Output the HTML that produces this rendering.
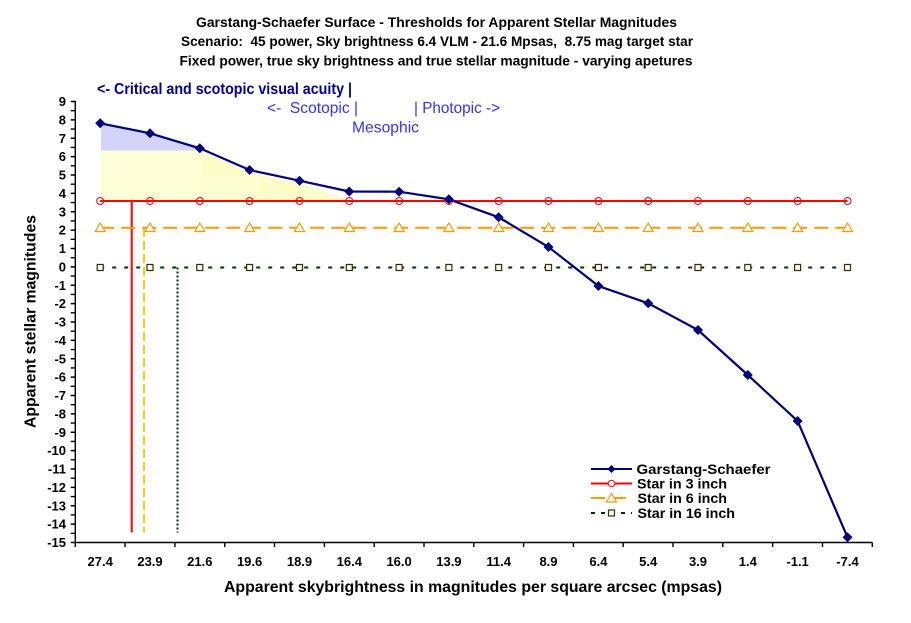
<!DOCTYPE html>
<html><head><meta charset="utf-8"><style>
html,body{margin:0;padding:0;background:#fff;}
svg{display:block;}
text{font-family:"Liberation Sans",Arial,sans-serif;}
</style></head><body>
<svg width="911" height="623" viewBox="0 0 911 623" xmlns="http://www.w3.org/2000/svg">
<rect width="911" height="623" fill="#fff"/>
<!-- Titles -->
<g font-weight="bold" font-size="14" fill="#000" text-anchor="middle">
<text x="436.5" y="27" textLength="481" lengthAdjust="spacingAndGlyphs">Garstang-Schaefer Surface - Thresholds for Apparent Stellar Magnitudes</text>
<text x="437" y="46" textLength="512" lengthAdjust="spacingAndGlyphs">Scenario:&#160; 45 power, Sky brightness 6.4 VLM - 21.6 Mpsas,&#160; 8.75 mag target star</text>
<text x="436" y="65.5" textLength="513" lengthAdjust="spacingAndGlyphs">Fixed power, true sky brightness and true stellar magnitude - varying apetures</text>
</g>
<!-- annotations -->
<text x="97" y="94" font-size="16" font-weight="bold" fill="#0000a0" textLength="255" lengthAdjust="spacingAndGlyphs">&lt;- Critical and scotopic visual acuity |</text>
<g font-size="16" fill="#3333ff">
<text x="267" y="113" textLength="91" lengthAdjust="spacingAndGlyphs">&lt;-&#160; Scotopic |</text>
<text x="414" y="113" textLength="86" lengthAdjust="spacingAndGlyphs">| Photopic -&gt;</text>
<text x="352" y="132.5" textLength="67" lengthAdjust="spacingAndGlyphs">Mesophic</text>
</g>
<!-- shading -->
<polygon points="101,123.5 150,133.5 200,148.5 201,150.7 101,150.7" fill="#d4d4fb"/>
<polygon points="101,150.7 201,150.7 201,200 101,200" fill="#fefed6"/>
<polygon points="201,150.7 249,172.5 299,183 347,200 201,200" fill="#fdfdca"/>
<rect x="201" y="177" width="59" height="23" fill="#fdfdd2"/>
<!-- vertical lines -->
<line x1="131.7" y1="201" x2="131.7" y2="532.5" stroke="#ff0000" stroke-width="2"/>
<line x1="144" y1="228" x2="144" y2="532.5" stroke="#ffcc00" stroke-width="2" stroke-dasharray="9,4"/>
<line x1="177.5" y1="267.5" x2="177.5" y2="532.5" stroke="#003300" stroke-width="2" stroke-dasharray="2,2"/>
<!-- horizontal series lines -->
<line x1="100.2" y1="201" x2="847.5" y2="201" stroke="#ff0000" stroke-width="2"/>
<line x1="100.2" y1="227.7" x2="847.5" y2="227.7" stroke="#ff9900" stroke-width="2" stroke-dasharray="14,7"/>
<line x1="100.2" y1="267.5" x2="847.5" y2="267.5" stroke="#003300" stroke-width="2" stroke-dasharray="4,8"/>
<!-- markers red circles -->
<g fill="none" stroke="#ff0000" stroke-width="1">
<circle cx="100.2" cy="201" r="3.5"/><circle cx="150" cy="201" r="3.5"/><circle cx="199.8" cy="201" r="3.5"/><circle cx="249.6" cy="201" r="3.5"/><circle cx="299.5" cy="201" r="3.5"/><circle cx="349.3" cy="201" r="3.5"/><circle cx="399.1" cy="201" r="3.5"/><circle cx="448.9" cy="201" r="3.5"/><circle cx="498.7" cy="201" r="3.5"/><circle cx="548.5" cy="201" r="3.5"/><circle cx="598.4" cy="201" r="3.5"/><circle cx="648.2" cy="201" r="3.5"/><circle cx="698" cy="201" r="3.5"/><circle cx="747.8" cy="201" r="3.5"/><circle cx="797.6" cy="201" r="3.5"/><circle cx="847.5" cy="201" r="3.5"/>
</g>
<!-- triangles -->
<g fill="#fff" stroke="#ff9900" stroke-width="1.2">
<path d="M100.2 223 l-5 8.5 h10 z M150 223 l-5 8.5 h10 z M199.8 223 l-5 8.5 h10 z M249.6 223 l-5 8.5 h10 z M299.5 223 l-5 8.5 h10 z M349.3 223 l-5 8.5 h10 z M399.1 223 l-5 8.5 h10 z M448.9 223 l-5 8.5 h10 z M498.7 223 l-5 8.5 h10 z M548.5 223 l-5 8.5 h10 z M598.4 223 l-5 8.5 h10 z M648.2 223 l-5 8.5 h10 z M698 223 l-5 8.5 h10 z M747.8 223 l-5 8.5 h10 z M797.6 223 l-5 8.5 h10 z M847.5 223 l-5 8.5 h10 z"/>
</g>
<!-- squares -->
<g fill="#fff" stroke="#333300" stroke-width="1.2">
<path d="M97.2 264.5 h6 v6 h-6 z M147 264.5 h6 v6 h-6 z M196.8 264.5 h6 v6 h-6 z M246.6 264.5 h6 v6 h-6 z M296.5 264.5 h6 v6 h-6 z M346.3 264.5 h6 v6 h-6 z M396.1 264.5 h6 v6 h-6 z M445.9 264.5 h6 v6 h-6 z M495.7 264.5 h6 v6 h-6 z M545.5 264.5 h6 v6 h-6 z M595.4 264.5 h6 v6 h-6 z M645.2 264.5 h6 v6 h-6 z M695 264.5 h6 v6 h-6 z M744.8 264.5 h6 v6 h-6 z M794.6 264.5 h6 v6 h-6 z M844.5 264.5 h6 v6 h-6 z"/>
</g>
<!-- Garstang curve -->
<polyline fill="none" stroke="#000080" stroke-width="2.2" points="100.2,123.3 150,133.3 199.8,148.3 249.6,170 299.5,180.7 349.3,191.5 399.1,191.7 448.9,199.3 498.7,217.3 548.5,247 598.4,286 648.2,303.3 698,330 747.8,375 797.6,421 847.5,537.3"/>
<g fill="#000080">
<path d="M100.2 118.3 l5 5 l-5 5 l-5 -5 z M150 128.3 l5 5 l-5 5 l-5 -5 z M199.8 143.3 l5 5 l-5 5 l-5 -5 z M249.6 165 l5 5 l-5 5 l-5 -5 z M299.5 175.7 l5 5 l-5 5 l-5 -5 z M349.3 186.5 l5 5 l-5 5 l-5 -5 z M399.1 186.7 l5 5 l-5 5 l-5 -5 z M448.9 194.3 l5 5 l-5 5 l-5 -5 z M498.7 212.3 l5 5 l-5 5 l-5 -5 z M548.5 242 l5 5 l-5 5 l-5 -5 z M598.4 281 l5 5 l-5 5 l-5 -5 z M648.2 298.3 l5 5 l-5 5 l-5 -5 z M698 325 l5 5 l-5 5 l-5 -5 z M747.8 370 l5 5 l-5 5 l-5 -5 z M797.6 416 l5 5 l-5 5 l-5 -5 z M847.5 532.3 l5 5 l-5 5 l-5 -5 z"/>
</g>
<!-- axes -->
<g stroke="#000" stroke-width="1.4" fill="none">
<line x1="75.3" y1="101" x2="75.3" y2="543"/>
<line x1="75.3" y1="542.5" x2="872.3" y2="542.5"/>
<path d="M70.7 101.5h4.6M70.7 110.69h4.6M70.7 119.88h4.6M70.7 129.06h4.6M70.7 138.25h4.6M70.7 147.44h4.6M70.7 156.63h4.6M70.7 165.81h4.6M70.7 175h4.6M70.7 184.19h4.6M70.7 193.38h4.6M70.7 202.56h4.6M70.7 211.75h4.6M70.7 220.94h4.6M70.7 230.13h4.6M70.7 239.31h4.6M70.7 248.5h4.6M70.7 257.69h4.6M70.7 266.88h4.6M70.7 276.06h4.6M70.7 285.25h4.6M70.7 294.44h4.6M70.7 303.63h4.6M70.7 312.81h4.6M70.7 322h4.6M70.7 331.19h4.6M70.7 340.38h4.6M70.7 349.56h4.6M70.7 358.75h4.6M70.7 367.94h4.6M70.7 377.13h4.6M70.7 386.31h4.6M70.7 395.5h4.6M70.7 404.69h4.6M70.7 413.88h4.6M70.7 423.06h4.6M70.7 432.25h4.6M70.7 441.44h4.6M70.7 450.63h4.6M70.7 459.81h4.6M70.7 469h4.6M70.7 478.19h4.6M70.7 487.38h4.6M70.7 496.56h4.6M70.7 505.75h4.6M70.7 514.94h4.6M70.7 524.13h4.6M70.7 533.31h4.6M70.7 542.5h4.6"/>
<path d="M75.3 542.5v4.5M125.1 542.5v4.5M174.9 542.5v4.5M224.7 542.5v4.5M274.5 542.5v4.5M324.4 542.5v4.5M374.2 542.5v4.5M424 542.5v4.5M473.8 542.5v4.5M523.6 542.5v4.5M573.4 542.5v4.5M623.2 542.5v4.5M673 542.5v4.5M722.8 542.5v4.5M772.6 542.5v4.5M822.5 542.5v4.5M872.3 542.5v4.5"/>
</g>
<!-- y tick labels -->
<g font-size="13" font-weight="bold" fill="#000" text-anchor="end">
<text x="66" y="106">9</text><text x="66" y="124.4">8</text><text x="66" y="142.8">7</text><text x="66" y="161.1">6</text><text x="66" y="179.5">5</text><text x="66" y="197.9">4</text><text x="66" y="216.3">3</text><text x="66" y="234.6">2</text><text x="66" y="253">1</text><text x="66" y="271.4">0</text><text x="66" y="289.8">-1</text><text x="66" y="308.1">-2</text><text x="66" y="326.5">-3</text><text x="66" y="344.9">-4</text><text x="66" y="363.3">-5</text><text x="66" y="381.6">-6</text><text x="66" y="400">-7</text><text x="66" y="418.4">-8</text><text x="66" y="436.8">-9</text><text x="66" y="455.1">-10</text><text x="66" y="473.5">-11</text><text x="66" y="491.9">-12</text><text x="66" y="510.3">-13</text><text x="66" y="528.6">-14</text><text x="66" y="547">-15</text>
</g>
<!-- x tick labels -->
<g font-size="13" font-weight="bold" fill="#000" text-anchor="middle">
<text x="100.2" y="566">27.4</text><text x="150" y="566">23.9</text><text x="199.8" y="566">21.6</text><text x="249.6" y="566">19.6</text><text x="299.5" y="566">18.9</text><text x="349.3" y="566">16.4</text><text x="399.1" y="566">16.0</text><text x="448.9" y="566">13.9</text><text x="498.7" y="566">11.4</text><text x="548.5" y="566">8.9</text><text x="598.4" y="566">6.4</text><text x="648.2" y="566">5.4</text><text x="698" y="566">3.9</text><text x="747.8" y="566">1.4</text><text x="797.6" y="566">-1.1</text><text x="847.5" y="566">-7.4</text>
</g>
<!-- axis titles -->
<text x="473" y="592" font-size="16" font-weight="bold" text-anchor="middle" textLength="498" lengthAdjust="spacingAndGlyphs">Apparent skybrightness in magnitudes per square arcsec (mpsas)</text>
<text transform="translate(35.5,321.5) rotate(-90)" font-size="16" font-weight="bold" text-anchor="middle" textLength="213" lengthAdjust="spacingAndGlyphs">Apparent stellar magnitudes</text>
<!-- legend -->
<line x1="591" y1="469" x2="632" y2="469" stroke="#000080" stroke-width="2"/>
<path d="M611.5 465 l4 4 l-4 4 l-4 -4 z" fill="#000080"/>
<line x1="591" y1="483.5" x2="632" y2="483.5" stroke="#ff0000" stroke-width="2"/>
<circle cx="611.5" cy="483.5" r="3.3" fill="#fff" stroke="#ff0000" stroke-width="1"/>
<line x1="591" y1="498" x2="632" y2="498" stroke="#ff9900" stroke-width="2" stroke-dasharray="14,7"/>
<path d="M611.5 493.5 l-5 8.5 h10 z" fill="#fff" stroke="#ff9900" stroke-width="1.2"/>
<line x1="591" y1="513" x2="632" y2="513" stroke="#003300" stroke-width="2" stroke-dasharray="4,6"/>
<rect x="608.5" y="510" width="6" height="6" fill="#fff" stroke="#333300" stroke-width="1.2"/>
<g font-size="14" font-weight="bold" fill="#000">
<text x="636.5" y="474" textLength="134" lengthAdjust="spacingAndGlyphs">Garstang-Schaefer</text>
<text x="637" y="488.5" textLength="90" lengthAdjust="spacingAndGlyphs">Star in 3 inch</text>
<text x="637.5" y="503" textLength="89.5" lengthAdjust="spacingAndGlyphs">Star in 6 inch</text>
<text x="637.5" y="518" textLength="97.5" lengthAdjust="spacingAndGlyphs">Star in 16 inch</text>
</g>
</svg>
</body></html>
